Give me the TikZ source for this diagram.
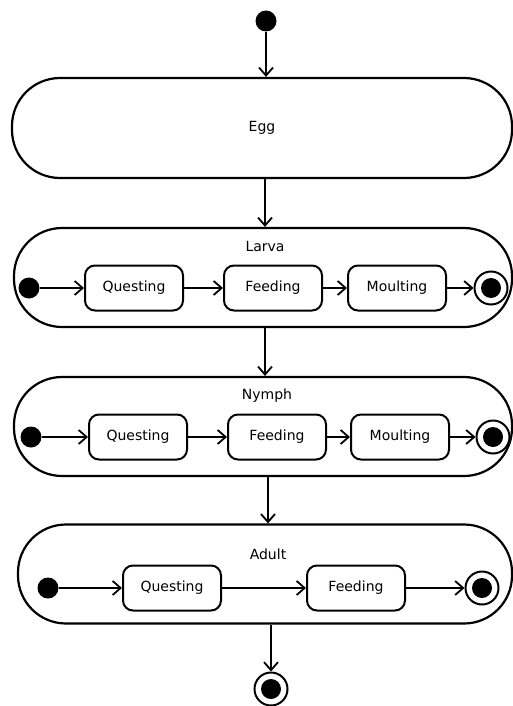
\documentclass[tikz,border=0pt]{standalone}
\usepackage{fontspec}
\setmainfont{DejaVu Sans}
\usetikzlibrary{arrows.meta,positioning}

\begin{document}
\begin{tikzpicture}[x=1pt,y=-1pt,line width=1.5pt,
  every node/.style={font=\fontsize{14}{16}\selectfont},
  phase/.style={draw,rectangle,rounded corners=48pt,minimum width=498pt,minimum height=99pt,line width=2.2pt},
  act/.style={draw,rectangle,rounded corners=10pt,minimum width=98pt,minimum height=45pt,line width=2pt},
  init/.style={circle,fill=black,minimum size=21pt,inner sep=0pt},
  final/.style={circle,draw,line width=2pt,minimum size=33pt,inner sep=0pt,
    path picture={\fill[black] (path picture bounding box.center) circle (10pt);}},
  tr/.style={-{Straight Barb[length=8pt,width=14pt]},line width=1.8pt}]
\useasboundingbox (0,0) rectangle (513,706);

\node[init] (start) at (266,21) {};
\node[phase,minimum width=500pt,minimum height=100pt] (egg) at (262,128) {Egg};

\node[phase] (larva) at (263,277.5) {};
\node (larvat) at (265,246) {Larva};
\node[init] (li) at (29,288) {};
\node[act] (lq) at (134,288) {Questing};
\node[act] (lf) at (273,288) {Feeding};
\node[act] (lm) at (397,288) {Moulting};
\node[final] (lo) at (491,288) {};

\node[phase] (nymph) at (263,426.5) {};
\node (nympht) at (267,396) {Nymph};
\node[init] (ni) at (31,437) {};
\node[act] (nq) at (138,437) {Questing};
\node[act] (nf) at (277,437) {Feeding};
\node[act] (nm) at (400,437) {Moulting};
\node[final] (no) at (493,437) {};

\node[phase,minimum width=494pt] (adult) at (265,574) {};
\node (adultt) at (268,554) {Adult};
\node[init] (ai) at (48,588) {};
\node[act] (aq) at (172,588) {Questing};
\node[act] (af) at (356,588) {Feeding};
\node[final] (ao) at (482,588) {};

\node[final] (end) at (271,689) {};

\draw[tr] (start) -- (start |- egg.north);
\draw[tr] (larvat |- egg.south) -- (larvat |- larva.north);
\draw[tr] (larvat |- larva.south) -- (larvat |- nymph.north);
\draw[tr] (adultt |- nymph.south) -- (adultt |- adult.north);
\draw[tr] (end |- adult.south) -- (end);

\foreach \a/\b in {li/lq,lq/lf,lf/lm,lm/lo,ni/nq,nq/nf,nf/nm,nm/no,ai/aq,aq/af,af/ao}
  \draw[tr] (\a) -- (\b);
\end{tikzpicture}
\end{document}
